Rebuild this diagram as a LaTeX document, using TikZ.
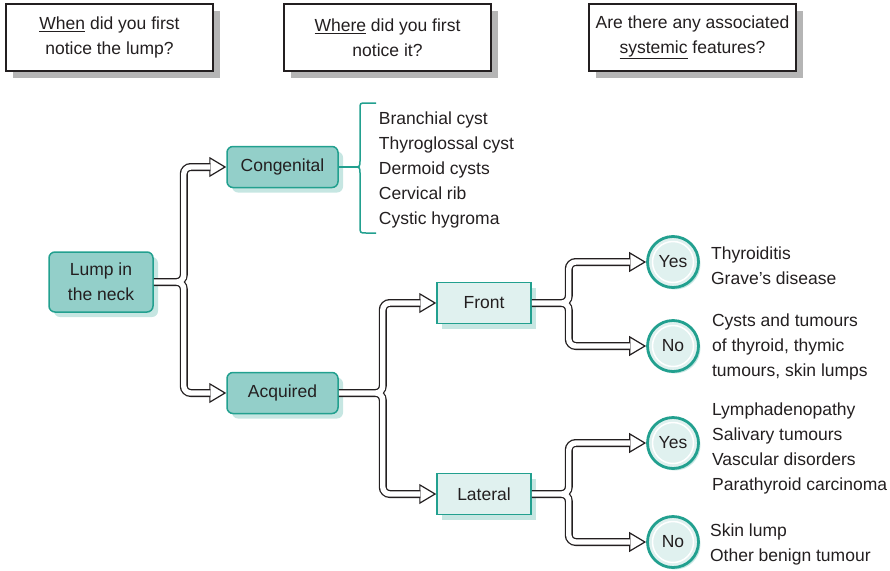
\documentclass[tikz,border=0pt]{standalone}
\usepackage{fontspec}
\setmainfont{Liberation Sans}
\usetikzlibrary{positioning,shadows,arrows.meta}
\definecolor{ink}{HTML}{231F20}
\definecolor{tealline}{HTML}{22A08F}
\definecolor{tealfill}{HTML}{93CFC9}
\definecolor{tealpale}{HTML}{E0F1EF}
\definecolor{tealshade}{HTML}{C6E6E2}
\definecolor{boxshade}{HTML}{B5B5B5}

\begin{document}
\begin{tikzpicture}[x=1pt,y=-1pt,
    every node/.style={font=\fontsize{17.5}{25}\selectfont, text=ink},
    question/.style={draw=ink, line width=1.3pt, fill=white, minimum width=207pt, minimum height=67pt,
      align=center, inner sep=0pt, drop shadow={shadow xshift=7pt, shadow yshift=-7pt, fill=boxshade, opacity=1}},
    mainbox/.style={draw=tealline, line width=1.5pt, fill=tealfill, rounded corners=6pt, align=center,
      inner sep=0pt, drop shadow={shadow xshift=5pt, shadow yshift=-5pt, fill=tealshade, opacity=1}},
    sitebox/.style={draw=tealline, line width=1.5pt, fill=tealpale, minimum width=94pt, minimum height=41pt,
      inner sep=0pt, drop shadow={shadow xshift=5pt, shadow yshift=-5pt, fill=tealshade, opacity=1}},
    answer/.style={circle, draw=tealline, line width=2.8pt, fill=tealpale, minimum size=51pt, inner sep=0pt,
      drop shadow={shadow xshift=2pt, shadow yshift=-2pt, fill=tealshade, opacity=1},
      path picture={\draw[white, line width=1.5pt] (path picture bounding box.center) circle (20.5pt);}},
    list/.style={align=left, inner sep=0pt},
    brace/.style={draw=tealline, line width=1.5pt},
    head/.style={draw=ink, line width=1.2pt, -{Triangle[length=17pt, width=20pt, fill=white]}},
    fork/.style={draw=white, line width=5.4pt, rounded corners=7pt, preaction={draw=ink, line width=8pt}}]
  \useasboundingbox (0,0) rectangle (890,570);

  % questions along the top
  \node[question] (Q1) at (109.5,37.5) {\underline{When} did you first\\notice the lump?};
  \node[question] (Q2) at (387.5,37.5) {\underline{Where} did you first\\notice it?};
  \node[question] (Q3) at (692.5,37.5) {Are there any associated\\\underline{systemic} features?};

  % tree
  \node[mainbox, minimum width=104pt, minimum height=60pt] (L) at (101,282) {Lump in\\the neck};
  \node[mainbox, minimum width=111pt, minimum height=41pt] (C) at (282.5,167) {Congenital};
  \node[mainbox, minimum width=111pt, minimum height=41pt] (A) at (282.5,393) {Acquired};
  \node[sitebox] (F) at (484,303) {Front};
  \node[sitebox] (La) at (484,494) {Lateral};
  \node[answer] (Y1) at (673,262) {Yes};
  \node[answer] (N1) at (673,346) {No};
  \node[answer] (Y2) at (673,443) {Yes};
  \node[answer] (N2) at (673,542) {No};

  % lists
  \node[list, right=40pt of C, yshift=-3pt] (CL) {Branchial cyst\\Thyroglossal cyst\\Dermoid cysts\\Cervical rib\\Cystic hygroma};
  \node[list, right=11pt of Y1, yshift=-4pt] (Y1L) {Thyroiditis\\Grave’s disease};
  \node[list, right=12pt of N1, yshift=-1pt] (N1L) {Cysts and tumours\\of thyroid, thymic\\tumours, skin lumps};
  \node[list, right=12pt of Y2, yshift=-5pt] (Y2L) {Lymphadenopathy\\Salivary tumours\\Vascular disorders\\Parathyroid carcinoma};
  \node[list, right=10pt of N2, yshift=-2pt] (N2L) {Skin lump\\Other benign tumour};

  % brace for congenital
  \coordinate (bt) at (354,167);
  \draw[brace] (C.east) -- (bt);
  \draw[brace] (376,103) -- (366,103) .. controls (360,103) .. (360,109) -- (360,160)
    .. controls (360,167) .. (bt) .. controls (360,167) .. (360,174) -- (360,226)
    .. controls (360,233) .. (366,233) -- (376,233);

  % hollow arrows
  \foreach \t in {C,A,F,La,Y1,N1,Y2,N2}
    \draw[head] ([xshift=-18pt]\t.west) -- (\t.west);
  \draw[fork] (L.east) -- ++(30,0) |- ([xshift=-16pt]C.west)
              (L.east) -- ++(30,0) |- ([xshift=-16pt]A.west);
  \draw[fork] (A.east) -- ++(44,0) |- ([xshift=-16pt]F.west)
              (A.east) -- ++(44,0) |- ([xshift=-16pt]La.west);
  \draw[fork] (F.east) -- ++(37,0) |- ([xshift=-16pt]Y1.west)
              (F.east) -- ++(37,0) |- ([xshift=-16pt]N1.west);
  \draw[fork] (La.east) -- ++(37,0) |- ([xshift=-16pt]Y2.west)
              (La.east) -- ++(37,0) |- ([xshift=-16pt]N2.west);
\end{tikzpicture}
\end{document}
